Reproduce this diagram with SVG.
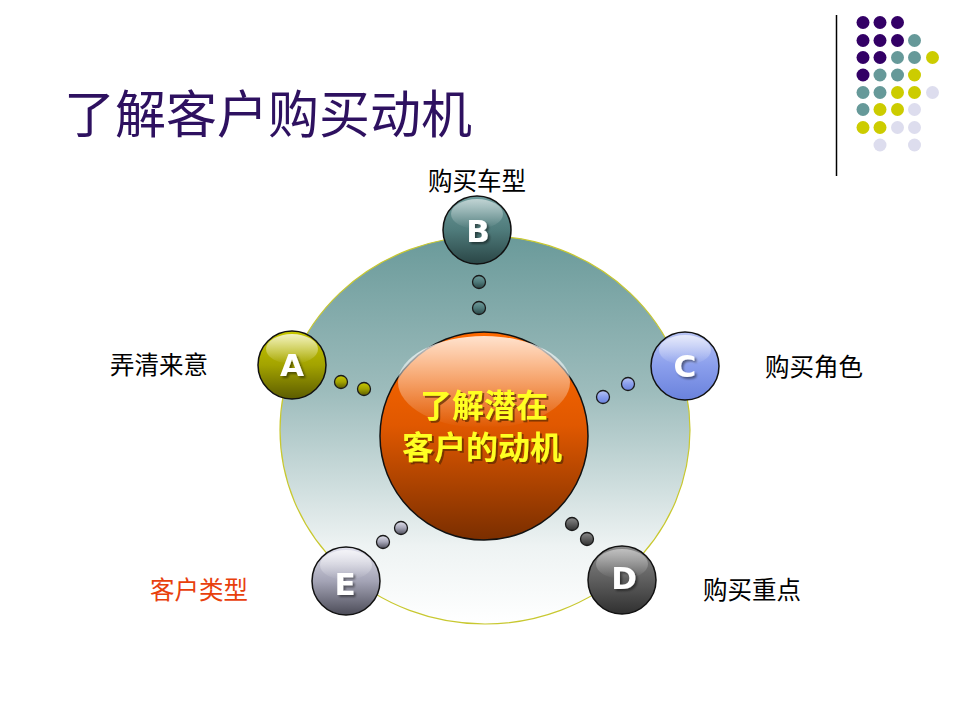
<svg xmlns="http://www.w3.org/2000/svg" width="960" height="720" viewBox="0 0 960 720">
<defs>
  <linearGradient id="gBig" x1="0" y1="0" x2="0" y2="1">
    <stop offset="0" stop-color="#6a9a9a"/>
    <stop offset="0.4" stop-color="#9dbcbc"/>
    <stop offset="0.8" stop-color="#eef3f3"/>
    <stop offset="1" stop-color="#ffffff"/>
  </linearGradient>
  <linearGradient id="gCenter" x1="0" y1="0" x2="0" y2="1">
    <stop offset="0" stop-color="#ff6a00"/>
    <stop offset="0.45" stop-color="#e05800"/>
    <stop offset="1" stop-color="#7a2e00"/>
  </linearGradient>
  <linearGradient id="gGloss" x1="0" y1="0" x2="0" y2="1">
    <stop offset="0" stop-color="#ffffff" stop-opacity="0.95"/>
    <stop offset="1" stop-color="#ffffff" stop-opacity="0"/>
  </linearGradient>
  <linearGradient id="gA" x1="0" y1="0" x2="0" y2="1">
    <stop offset="0" stop-color="#c8c800"/>
    <stop offset="0.5" stop-color="#a3a300"/>
    <stop offset="1" stop-color="#5c5c00"/>
  </linearGradient>
  <linearGradient id="gB" x1="0" y1="0" x2="0" y2="1">
    <stop offset="0" stop-color="#6f9c9c"/>
    <stop offset="0.5" stop-color="#4f7b7b"/>
    <stop offset="1" stop-color="#2a4646"/>
  </linearGradient>
  <linearGradient id="gC" x1="0" y1="0" x2="0" y2="1">
    <stop offset="0" stop-color="#b8c4f4"/>
    <stop offset="0.5" stop-color="#8a9eec"/>
    <stop offset="1" stop-color="#6a82dc"/>
  </linearGradient>
  <linearGradient id="gD" x1="0" y1="0" x2="0" y2="1">
    <stop offset="0" stop-color="#8a8a8a"/>
    <stop offset="0.5" stop-color="#5e5e5e"/>
    <stop offset="1" stop-color="#303030"/>
  </linearGradient>
  <linearGradient id="gE" x1="0" y1="0" x2="0" y2="1">
    <stop offset="0" stop-color="#e2e2ee"/>
    <stop offset="0.5" stop-color="#a4a4b6"/>
    <stop offset="1" stop-color="#4c4c58"/>
  </linearGradient>
  <filter id="shLetter" x="-30%" y="-30%" width="160%" height="160%">
    <feDropShadow dx="2" dy="2" stdDeviation="0.8" flood-color="#000000" flood-opacity="0.45"/>
  </filter>
  <filter id="shCenter" x="-10%" y="-30%" width="120%" height="160%">
    <feDropShadow dx="2" dy="2" stdDeviation="0.6" flood-color="#5a2a00" flood-opacity="0.7"/>
  </filter>
</defs>
<style>
  .title { font-family: "Liberation Serif", "Noto Sans CJK SC", serif; font-size: 51px; fill: #2e1160; }
  .lbl { font-family: "Liberation Serif", "Noto Sans CJK SC", serif; font-size: 24.5px; fill: #000000; }
  .lblRed { fill: #e8400c; }
  .sph { stroke: #111111; stroke-width: 1.5; }
  .dot { stroke: #1a1a1a; stroke-width: 1.3; }
  .letter { font-family: "DejaVu Sans", "Liberation Sans", sans-serif; font-size: 31px; font-weight: bold; fill: #ffffff; text-anchor: middle; filter: url(#shLetter); }
  .ctext { font-family: "Noto Sans CJK SC", sans-serif; font-size: 32px; font-weight: bold; fill: #ffff22; text-anchor: middle; filter: url(#shCenter); }
  .P { fill: #330066; } .T { fill: #669999; } .Y { fill: #cccc00; } .L { fill: #ddddee; }
</style>

<g id="decor">
  <line x1="836.5" y1="15" x2="836.5" y2="176" stroke="#000000" stroke-width="1.5"/>
  <g id="dot-grid">
    <circle class="P" cx="863" cy="22.5" r="6.5"/><circle class="P" cx="880" cy="22.5" r="6.5"/><circle class="P" cx="897.5" cy="22.5" r="6.5"/>
    <circle class="P" cx="863" cy="40.5" r="6.5"/><circle class="P" cx="880" cy="40.5" r="6.5"/><circle class="P" cx="897.5" cy="40.5" r="6.5"/><circle class="T" cx="914.5" cy="40.5" r="6.5"/>
    <circle class="P" cx="863" cy="57.5" r="6.5"/><circle class="P" cx="880" cy="57.5" r="6.5"/><circle class="T" cx="897.5" cy="57.5" r="6.5"/><circle class="T" cx="914.5" cy="57.5" r="6.5"/><circle class="Y" cx="932.5" cy="57.5" r="6.5"/>
    <circle class="P" cx="863" cy="75" r="6.5"/><circle class="T" cx="880" cy="75" r="6.5"/><circle class="T" cx="897.5" cy="75" r="6.5"/><circle class="Y" cx="914.5" cy="75" r="6.5"/>
    <circle class="T" cx="863" cy="92.5" r="6.5"/><circle class="T" cx="880" cy="92.5" r="6.5"/><circle class="Y" cx="897.5" cy="92.5" r="6.5"/><circle class="Y" cx="914.5" cy="92.5" r="6.5"/><circle class="L" cx="932.5" cy="92.5" r="6.5"/>
    <circle class="T" cx="863" cy="109.5" r="6.5"/><circle class="Y" cx="880" cy="109.5" r="6.5"/><circle class="Y" cx="897.5" cy="109.5" r="6.5"/><circle class="L" cx="914.5" cy="109.5" r="6.5"/>
    <circle class="Y" cx="863" cy="127.5" r="6.5"/><circle class="Y" cx="880" cy="127.5" r="6.5"/><circle class="L" cx="897.5" cy="127.5" r="6.5"/><circle class="L" cx="914.5" cy="127.5" r="6.5"/>
    <circle class="L" cx="880" cy="145" r="6.5"/><circle class="L" cx="914.5" cy="145" r="6.5"/>
  </g>
</g>

<text id="title" class="title" x="64" y="133">了解客户购买动机</text>

<g id="ring">
  <ellipse cx="485" cy="430" rx="205" ry="194" fill="url(#gBig)" stroke="#c8c830" stroke-width="1.2"/>
</g>

<g id="connectors">
  <circle class="dot" cx="479" cy="282" r="6.5" fill="url(#gB)"/>
  <circle class="dot" cx="479" cy="308" r="6.5" fill="url(#gB)"/>
  <circle class="dot" cx="341" cy="382" r="6.5" fill="url(#gA)"/>
  <circle class="dot" cx="364" cy="389" r="6.5" fill="url(#gA)"/>
  <circle class="dot" cx="628" cy="384" r="6.5" fill="url(#gC)"/>
  <circle class="dot" cx="603" cy="397" r="6.5" fill="url(#gC)"/>
  <circle class="dot" cx="572" cy="524" r="6.5" fill="url(#gD)"/>
  <circle class="dot" cx="587" cy="539" r="6.5" fill="url(#gD)"/>
  <circle class="dot" cx="401" cy="528" r="6.5" fill="url(#gE)"/>
  <circle class="dot" cx="383" cy="542" r="6.5" fill="url(#gE)"/>
</g>

<g id="center">
  <circle cx="484" cy="436" r="104" fill="url(#gCenter)" stroke="#111111" stroke-width="1.5"/>
  <ellipse cx="484" cy="382" rx="86" ry="46" fill="url(#gGloss)" opacity="0.85"/>
  <text class="ctext" x="484" y="417">了解潜在</text>
  <text class="ctext" x="482" y="459">客户的动机</text>
</g>

<g id="node-A">
  <circle class="sph" cx="292" cy="365" r="34" fill="url(#gA)"/>
  <ellipse cx="292" cy="349" rx="26" ry="15" fill="url(#gGloss)" opacity="0.8"/>
  <text class="letter" x="292" y="376">A</text>
  <text class="lbl" x="110" y="374">弄清来意</text>
</g>

<g id="node-B">
  <circle class="sph" cx="477" cy="230" r="34" fill="url(#gB)"/>
  <ellipse cx="477" cy="214" rx="26" ry="15" fill="url(#gGloss)" opacity="0.6"/>
  <text class="letter" x="478" y="242">B</text>
  <text class="lbl" x="428" y="190">购买车型</text>
</g>

<g id="node-C">
  <circle class="sph" cx="685" cy="366" r="34" fill="url(#gC)"/>
  <ellipse cx="685" cy="350" rx="26" ry="15" fill="url(#gGloss)" opacity="0.7"/>
  <text class="letter" x="685" y="377">C</text>
  <text class="lbl" x="765" y="376">购买角色</text>
</g>

<g id="node-D">
  <circle class="sph" cx="622" cy="580" r="34" fill="url(#gD)"/>
  <ellipse cx="622" cy="564" rx="26" ry="15" fill="url(#gGloss)" opacity="0.5"/>
  <text class="letter" x="624" y="589">D</text>
  <text class="lbl" x="703" y="599">购买重点</text>
</g>

<g id="node-E">
  <circle class="sph" cx="346" cy="581" r="34" fill="url(#gE)"/>
  <ellipse cx="346" cy="565" rx="26" ry="15" fill="url(#gGloss)" opacity="0.7"/>
  <text class="letter" x="345" y="595">E</text>
  <text class="lbl lblRed" x="150" y="599">客户类型</text>
</g>
</svg>
